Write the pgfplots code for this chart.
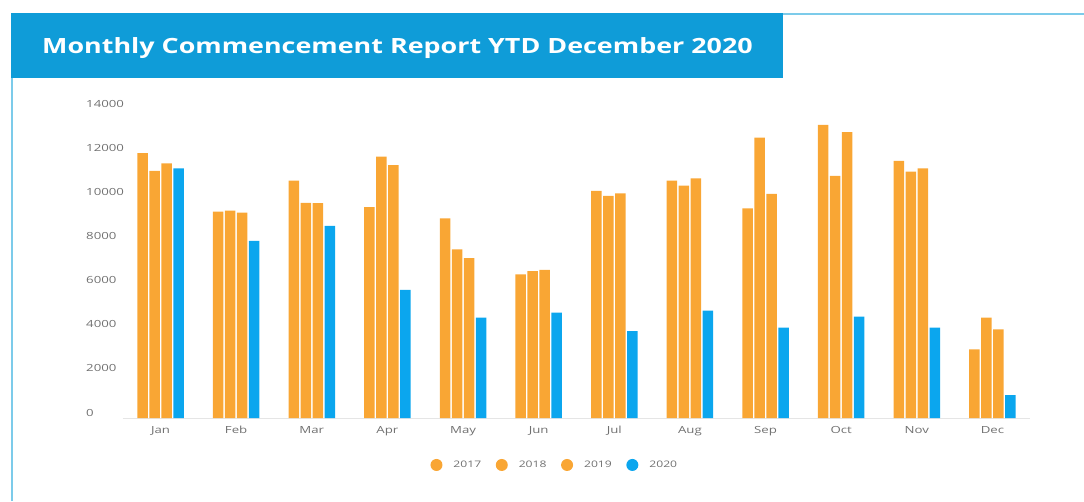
\documentclass[border=0pt]{standalone}
\usepackage{fontspec}
\setmainfont{Open Sans}[FakeStretch=1.35]
\newfontfamily\titlefont{Open Sans}[FakeStretch=1.28]
\usepackage{pgfplots}
\pgfplotsset{compat=1.18}
\definecolor{barorange}{HTML}{F9A634}
\definecolor{barblue}{HTML}{0BA6EE}
\definecolor{banner}{HTML}{0F9CD8}
\definecolor{frameblue}{HTML}{7CCBEA}
\definecolor{ticktext}{HTML}{707070}
\begin{document}
\begin{tikzpicture}[x=1pt,y=1pt]
\path[use as bounding box] (0,0) rectangle (1084,501);
\draw[frameblue,line width=1.5pt] (12,0) -- (12,487) -- (1084,487);
\fill[banner] (11.25,423) rectangle (783,487.75);
\node[anchor=west,text=white,inner sep=0pt] at (42,453)
  {\titlefont\bfseries\fontsize{21}{25}\selectfont Monthly Commencement Report YTD December 2020};
\begin{axis}[
  at={(122.7pt,83pt)}, anchor=south west,
  scale only axis, width=907.6pt, height=309pt,
  xmin=-0.5, xmax=11.5, ymin=0, ymax=14000,
  ybar=1.5pt, bar width=10.5pt,
  axis x line*=bottom, axis y line*=left,
  x axis line style={draw=black!10},
  y axis line style={draw=none},
  major tick length=0pt,
  xtick={0,...,11},
  xticklabels={Jan,Feb,Mar,Apr,May,Jun,Jul,Aug,Sep,Oct,Nov,Dec},
  ytick={0,2000,...,14000},
  scaled y ticks=false,
  /pgf/number format/assume math mode=true,
  /pgf/number format/1000 sep={},
  tick label style={font=\fontsize{9.8}{11}\selectfont, text=ticktext, inner sep=0pt},
  yticklabel style={anchor=west, xshift=-36.7pt, yshift=5.5pt},
  xticklabel style={anchor=north, yshift=-8pt},
  legend style={at={(0.475,-0.152)}, anchor=center, draw=none, fill=none,
    legend columns=4, font=\fontsize{9}{11}\selectfont, text=ticktext,
    nodes={inner sep=0pt},
    /tikz/every odd column/.append style={column sep=11pt},
    /tikz/every even column/.append style={column sep=14.5pt}},
  legend image code/.code={\fill[#1] (0pt,0pt) circle (6pt);},
]
\addplot[fill=barorange, draw=none] coordinates {(0,12000) (1,9350) (2,10750) (3,9550) (4,9050) (5,6510) (6,10290) (7,10750) (8,9500) (9,13280) (10,11650) (11,3110)};
\addplot[fill=barorange, draw=none] coordinates {(0,11200) (1,9390) (2,9750) (3,11840) (4,7640) (5,6660) (6,10060) (7,10530) (8,12700) (9,10970) (10,11160) (11,4545)};
\addplot[fill=barorange, draw=none] coordinates {(0,11540) (1,9300) (2,9730) (3,11460) (4,7240) (5,6710) (6,10180) (7,10860) (8,10150) (9,12950) (10,11310) (11,4020)};
\addplot[fill=barblue, draw=none] coordinates {(0,11310) (1,8030) (2,8700) (3,5800) (4,4545) (5,4770) (6,3940) (7,4860) (8,4090) (9,4590) (10,4090) (11,1040)};
\legend{2017,2018,2019,2020}
\end{axis}
\end{tikzpicture}
\end{document}
